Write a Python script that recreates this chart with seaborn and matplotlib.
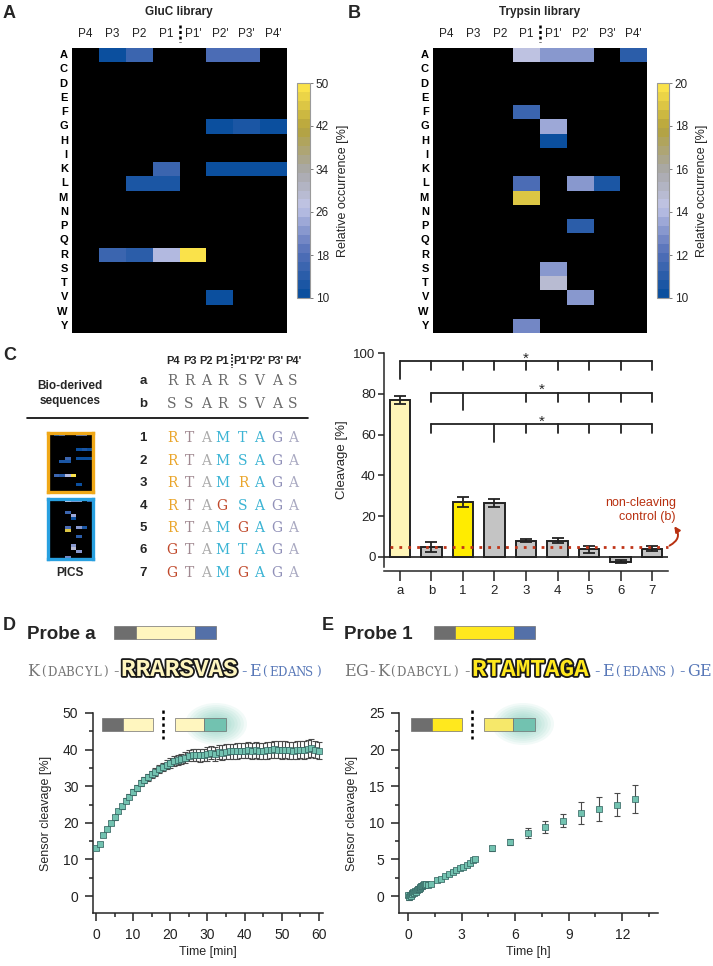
import numpy as np
import pandas as pd
import seaborn as sns
import matplotlib.pyplot as plt
from matplotlib.colors import LinearSegmentedColormap
from matplotlib.patches import Rectangle, Ellipse
from matplotlib.ticker import MultipleLocator
import matplotlib.patheffects as pe

sns.set_style("ticks")
plt.rcParams['font.family'] = ['Liberation Sans', 'DejaVu Sans']
plt.rcParams['axes.linewidth'] = 1.1

# ---------------- data ----------------
residues = list("ACDEFGHIKLMNPQRSTVWY")
positions = ["P4", "P3", "P2", "P1", "P1'", "P2'", "P3'", "P4'"]

# GluC library, only the cells above threshold (others are black)
gluc_res = ["A", "A", "A", "A", "G", "G", "G", "K", "K", "K", "K", "L", "L", "R", "R", "R", "R", "V"]
gluc_pos = ["P3", "P2", "P2'", "P3'", "P2'", "P3'", "P4'", "P1", "P2'", "P3'", "P4'",
            "P2", "P1", "P3", "P2", "P1", "P1'", "P2'"]
gluc_val = [11.5, 15, 18, 17, 11, 12.5, 11.5, 16.5, 11, 11, 11, 13, 12, 15, 14.5, 25.5, 49, 10.5]

# Trypsin library
tryp_res = ["A", "A", "A", "A", "F", "G", "H", "L", "L", "L", "M", "P", "S", "T", "V", "Y"]
tryp_pos = ["P1", "P1'", "P2'", "P4'", "P1", "P1'", "P1'", "P1", "P2'", "P3'", "P1", "P2'", "P1'", "P1'", "P2'", "P1"]
tryp_val = [14.2, 13, 13, 11, 11.5, 13.5, 10.3, 12, 13, 10.8, 19, 11, 13, 14.6, 13, 12.5]

# panel C sequences
bio_ids = ["a", "b"]
bio_seqs = ["RRARSVAS", "SSARSVAS"]
pics_ids = ["1", "2", "3", "4", "5", "6", "7"]
pics_seqs = ["RTAMTAGA", "RTAMSAGA", "RTAMRAGA", "RTAGSAGA", "RTAMGAGA", "GTAMTAGA", "GTAMGAGA"]

# cleavage bars
bar_labels = ["a", "b", "1", "2", "3", "4", "5", "6", "7"]
bar_vals = [77.0, 4.9, 26.9, 26.2, 7.8, 7.8, 3.6, -2.5, 3.9]
bar_err = [2.0, 2.3, 2.6, 2.0, 0.7, 1.2, 1.6, 0.7, 1.2]
bar_colors = ["#fff5b8", "#c4c4c4", "#ffec00", "#c4c4c4", "#c4c4c4", "#c4c4c4", "#c4c4c4", "#c4c4c4", "#c4c4c4"]
control_level = 4.9
br_levels = [96, 80.5, 65]
br_starts = [0, 1, 1]
br_long = [0, 2, 3]
br_skip = [None, 3, 2]

# probe a time course (min)
time_a = list(range(61))
cleav_a = [13.0, 14.2, 16.6, 18.3, 19.9, 21.5, 23.2, 24.5, 26.0, 27.1,
           28.4, 29.6, 30.9, 31.7, 32.4, 33.2, 33.9, 34.6, 35.2, 35.9,
           36.4, 36.9, 37.1, 37.5, 37.8, 38.3, 38.5, 38.6, 38.4, 38.6,
           38.8, 39.2, 38.8, 39.3, 39.2, 39.4, 39.5, 39.5, 39.6, 39.7,
           39.7, 39.8, 39.7, 39.8, 39.7, 39.6, 39.8, 39.9, 40.1, 40.0,
           39.9, 40.0, 39.8, 39.7, 39.9, 40.0, 39.9, 40.1, 40.4, 40.0, 39.7]
err_a = [0.4, 0.5, 0.5, 0.5, 0.6, 0.6, 0.6, 0.7, 0.7, 0.7,
         0.8, 0.8, 0.8, 0.9, 0.9, 1.0, 1.0, 1.1, 1.1, 1.2,
         1.3, 1.3, 1.4, 1.4, 1.5, 1.5, 1.6, 1.6, 1.7, 1.7,
         1.8, 1.8, 1.9, 1.9, 2.0, 2.0, 2.0, 2.1, 2.1, 2.1,
         2.1, 2.2, 2.2, 2.2, 2.2, 2.2, 2.3, 2.3, 2.3, 2.3,
         2.4, 2.4, 2.4, 2.4, 2.4, 2.4, 2.4, 2.4, 2.4, 2.4, 2.4]

# probe 1 time course (h)
time_1 = [0.0, 0.05, 0.1, 0.15, 0.2, 0.25, 0.3, 0.35, 0.4, 0.45, 0.5, 0.55, 0.6, 0.65,
          0.7, 0.75, 0.8, 0.85, 0.9, 0.95, 1.0, 1.1, 1.3, 1.6, 1.85, 2.05, 2.3, 2.5,
          2.7, 2.9, 3.1, 3.3, 3.45, 3.65, 3.75, 4.7, 5.7, 6.7, 7.7, 8.7, 9.7, 10.7, 11.7, 12.7]
cleav_1 = [0.1, -0.2, 0.2, 0.0, 0.4, 0.3, 0.5, 0.4, 0.7, 0.6, 0.8, 1.0, 0.9, 1.1,
           1.2, 1.4, 1.3, 1.5, 1.6, 1.5, 1.6, 1.5, 1.6, 2.2, 2.3, 2.7, 3.0, 3.3,
           3.6, 3.8, 4.0, 4.2, 4.5, 4.9, 5.1, 6.5, 7.4, 8.6, 9.4, 10.3, 11.3, 11.9, 12.5, 13.3]
err_1 = [0.3, 0.3, 0.3, 0.3, 0.3, 0.3, 0.3, 0.3, 0.3, 0.3, 0.3, 0.3, 0.3, 0.3,
         0.3, 0.3, 0.3, 0.3, 0.3, 0.3, 0.2, 0.2, 0.2, 0.2, 0.2, 0.2, 0.2, 0.2,
         0.2, 0.2, 0.2, 0.2, 0.2, 0.2, 0.2, 0.35, 0.4, 0.7, 0.8, 0.85, 1.5, 1.6, 1.6, 1.9]

# ---------------- helpers ----------------
W, H = 713, 966
fig = plt.figure(figsize=(W / 100, H / 100), dpi=100)
SERIF = 'DejaVu Serif'


def ax_at(x0, y0, x1, y1):
    return fig.add_axes([x0 / W, 1 - y1 / H, (x1 - x0) / W, (y1 - y0) / H])


def ftext(x, y, s, **kw):
    return fig.text(x / W, 1 - y / H, s, **kw)


def frect(x0, y0, x1, y1, fc, ec='#707070', lw=0.5, z=5):
    fig.add_artist(Rectangle((x0 / W, 1 - y1 / H), (x1 - x0) / W, (y1 - y0) / H,
                             transform=fig.transFigure, fc=fc, ec=ec, lw=lw, zorder=z))


def fline(xs, ys, **kw):
    fig.add_artist(plt.Line2D([x / W for x in xs], [1 - y / H for y in ys],
                              transform=fig.transFigure, **kw))


def glow(cx, cy, w, h, color='#5cc0a8'):
    for k in range(10):
        f = 1 - k / 10
        fig.add_artist(Ellipse((cx / W, 1 - cy / H), w * f / W, h * f / H, transform=fig.transFigure,
                               fc=color, ec='none', alpha=0.08, zorder=4))


def mono_text(x0, y, s, adv, fs, color):
    # typewriter-like spacing: one fixed cell per character
    for k, ch in enumerate(s):
        ftext(x0 + (k + 0.5) * adv, y, ch, fontsize=fs, family=SERIF, color=color,
              ha='center', va='baseline')


occ_cmap = LinearSegmentedColormap.from_list(
    "occ", [(0, "#0b4f9e"), (0.2, "#5570b8"), (0.42, "#c0c4e6"), (0.6, "#a8a8a8"),
            (0.8, "#b4a23c"), (1.0, "#fae24a")], N=24)


def make_df(res, pos, val):
    df = pd.DataFrame(np.nan, index=residues, columns=positions)
    for r, p, v in zip(res, pos, val):
        df.loc[r, p] = v
    return df


gluc_df = make_df(gluc_res, gluc_pos, gluc_val)
tryp_df = make_df(tryp_res, tryp_pos, tryp_val)


def draw_heatmap(ax, cax, df, vmin, vmax, ticks):
    ax.set_facecolor('black')
    sns.heatmap(df, ax=ax, cmap=occ_cmap, vmin=vmin, vmax=vmax, cbar_ax=cax,
                xticklabels=positions, yticklabels=residues, cbar_kws={'ticks': ticks})
    ax.xaxis.tick_top()
    plt.setp(ax.get_xticklabels(), rotation=0, fontsize=8.5)
    plt.setp(ax.get_yticklabels(), rotation=0, fontsize=8, fontweight='bold')
    ax.tick_params(axis='x', length=0, pad=6, colors='#222222')
    ax.tick_params(axis='y', length=0, pad=3, colors='black')
    ax.set_xlabel('')
    ax.set_ylabel('')
    ax.plot([4, 4], [-1.6, -0.45], color='black', lw=1.8, ls=(0, (1.2, 1.0)), clip_on=False)
    cb = ax.collections[0].colorbar
    cb.outline.set_edgecolor('#9a9a9a')
    cb.outline.set_linewidth(0.8)
    cb.ax.tick_params(labelsize=8.5, length=2.5, width=0.6, color='#666666', pad=1.5)
    cb.set_label('Relative occurrence [%]', fontsize=9, labelpad=6)


# ---------------- panel A / B ----------------
axA = ax_at(72, 48, 287, 333)
caxA = ax_at(297, 83, 310, 298)
draw_heatmap(axA, caxA, gluc_df, 10, 50, [10, 18, 26, 34, 42, 50])
axB = ax_at(433, 48, 647, 333)
caxB = ax_at(657, 83, 669, 298)
draw_heatmap(axB, caxB, tryp_df, 10, 20, [10, 12, 14, 16, 18, 20])

ftext(3, 13, "A", fontsize=13, fontweight='bold', va='center')
ftext(348, 13, "B", fontsize=13, fontweight='bold', va='center')
ftext(179, 12, "GluC library", fontsize=8.5, fontweight='bold', ha='center', va='center')
ftext(540, 12, "Trypsin library", fontsize=8.5, fontweight='bold', ha='center', va='center')

# ---------------- panel C left ----------------
ftext(3, 355, "C", fontsize=13, fontweight='bold', va='center')
letter_x = [172, 189, 206, 222, 243, 259, 277, 293]
head_x = [173, 190, 206, 222, 241, 257, 275, 293]
for px, lab in zip(head_x, positions):
    ftext(px, 361, lab, fontsize=8, fontweight='bold', ha='center', va='center')
fline([232, 232], [354, 368], color='black', lw=1.2, ls=(0, (1, 1)))

ftext(70, 386, "Bio-derived", fontsize=8.5, fontweight='bold', ha='center', va='center')
ftext(70, 401, "sequences", fontsize=8.5, fontweight='bold', ha='center', va='center')
for yy, sid, seq in zip([381, 404], bio_ids, bio_seqs):
    ftext(143, yy, sid, fontsize=9.5, fontweight='bold', ha='center', va='center')
    for px, aa in zip(letter_x, seq):
        ftext(px, yy, aa, fontsize=10, family=SERIF, color='#6a6a6a',
              ha='center', va='center')
fline([27, 308], [418, 418], color='black', lw=1.2)

orange, red, cyan = "#eaa52a", "#c0482a", "#3cb4d4"
pos_colors = [orange, "#a08890", "#ababab", cyan, cyan, cyan, "#9090b8", "#aaaac2"]


def letter_color(i, aa):
    if aa == 'R':
        return orange
    if aa == 'G' and i < 6:
        return red
    return pos_colors[i]


rows_y = [438, 461, 483, 506, 528, 550, 573]
for yy, sid, seq in zip(rows_y, pics_ids, pics_seqs):
    ftext(143, yy, sid, fontsize=9.5, fontweight='bold', ha='center', va='center')
    for i, (px, aa) in enumerate(zip(letter_x, seq)):
        ftext(px, yy, aa, fontsize=10, family=SERIF, color=letter_color(i, aa),
              ha='center', va='center')

for (y0, y1), df, col, vmax in [((433, 492), gluc_df, "#f0a818", 50), ((499, 559), tryp_df, "#28a0e0", 20)]:
    th = ax_at(48, y0, 93, y1)
    th.set_facecolor('black')
    sns.heatmap(df, ax=th, cmap=occ_cmap, vmin=10, vmax=vmax,
                cbar=False, xticklabels=False, yticklabels=False)
    th.set_xlabel('')
    th.set_ylabel('')
    for s in th.spines.values():
        s.set_visible(True)
        s.set_color(col)
        s.set_linewidth(2.4)
ftext(70, 573, "PICS", fontsize=8.5, fontweight='bold', ha='center', va='center')

# ---------------- panel C bars ----------------
axc = ax_at(384, 353, 668, 567)
axc.axhline(0, color='#222222', lw=1.2, zorder=1)
sns.barplot(x=bar_labels, y=bar_vals, hue=bar_labels, palette=bar_colors, legend=False,
            saturation=1, width=0.65, edgecolor='#222222', linewidth=1.4, errorbar=None,
            ax=axc, zorder=2)
axc.errorbar(range(len(bar_vals)), bar_vals, yerr=bar_err, fmt='none', ecolor='#222222',
             elinewidth=1.3, capsize=4, capthick=1.3, zorder=3)
axc.plot([-0.3, 8.5], [control_level, control_level], color='#c03418', lw=2,
         ls=(0, (1, 2.2)), zorder=4, clip_on=False)
for level, start, long_i, skip in zip(br_levels, br_starts, br_long, br_skip):
    axc.plot([start, 8], [level, level], color='#222222', lw=1.3, clip_on=False)
    for i in range(start, 9):
        if i == skip:
            continue
        drop = 8.7 if i == long_i else 4.3
        axc.plot([i, i], [level, level - drop], color='#222222', lw=1.3, clip_on=False)
    axc.text((start + 8) / 2, level + 1.3, "*", fontsize=11, ha='center', va='center')
axc.text(8.75, 23, "non-cleaving\ncontrol (b)", color='#b83010', fontsize=9,
         ha='right', va='center', multialignment='right', linespacing=1.15)
axc.annotate('', xy=(8.7, 15), xytext=(8.55, 5.5), annotation_clip=False,
             arrowprops=dict(arrowstyle='-|>', color='#b83010', lw=1.4, mutation_scale=8,
                             shrinkA=0, shrinkB=0, connectionstyle='arc3,rad=0.55'))
axc.set_xlim(-0.5, 8.5)
axc.set_ylim(-5, 100)
axc.set_yticks([0, 20, 40, 60, 80, 100])
axc.set_ylabel("Cleavage [%]", fontsize=9.5, labelpad=4)
axc.set_xlabel('')
sns.despine(ax=axc)
axc.spines['bottom'].set_position(('outward', 3))
axc.tick_params(axis='x', length=7, width=1.1, labelsize=9.5, pad=3, colors='#222222')
axc.tick_params(axis='y', length=4, width=1.1, labelsize=9.5, pad=2, colors='#222222')

# ---------------- panels D / E ----------------
ftext(3, 625, "D", fontsize=13, fontweight='bold', va='center')
ftext(322, 625, "E", fontsize=13, fontweight='bold', va='center')
ftext(27, 639, "Probe a", fontsize=13.5, fontweight='bold', va='baseline')
ftext(344, 639, "Probe 1", fontsize=13.5, fontweight='bold', va='baseline')

grey_q, pale_y, bright_y, blue_f, teal = "#6e6e6e", "#fff6bf", "#ffe81e", "#5470a8", "#72c2b0"
frect(114, 626, 136, 639, grey_q)
frect(136, 626, 195, 639, pale_y)
frect(195, 626, 216, 639, blue_f)
frect(434, 626, 455, 639, grey_q)
frect(455, 626, 514, 639, bright_y)
frect(514, 626, 535, 639, blue_f)

seq_grey, seq_blue = "#767676", "#5878b8"
outline = [pe.Stroke(linewidth=2.6, foreground='#1a1a1a'), pe.Normal()]
# flanking groups: (text, start x, cell width, font size, colour)
flank_a = [("K", 27, 11.5, 11.5, seq_grey), ("(DABCYL)", 39, 8.9, 8.5, seq_grey),
           ("-", 110, 11, 11.5, seq_grey), ("-E", 239, 10.5, 11.5, seq_blue),
           ("(EDANS)", 260, 9, 8.5, seq_blue)]
flank_1 = [("EG-K", 345, 10.75, 11.5, seq_grey), ("(DABCYL)", 388, 9, 8.5, seq_grey),
           ("-", 461, 11, 11.5, seq_grey), ("-E", 592, 10.5, 11.5, seq_blue),
           ("(EDANS)", 613, 9, 8.5, seq_blue), ("-GE", 677, 11, 11.5, seq_blue)]
for parts in (flank_a, flank_1):
    for txt, px, adv, fs, col in parts:
        mono_text(px, 676, txt, adv, fs, col)
for txt, px, col in [("RRARSVAS", 121, pale_y), ("RTAMTAGA", 472, bright_y)]:
    t = ftext(px, 676, txt, fontsize=17.5, family='Liberation Mono', fontweight='bold',
              color=col, va='baseline')
    t.set_path_effects(outline)


def time_panel(ax, t, y, e, xlim, ylim, xmaj, xmin, ymaj, ymin, xlabel):
    ax.errorbar(t, y, yerr=e, fmt='none', ecolor='#4a4a4a', elinewidth=0.8, capsize=2,
                capthick=0.8, zorder=2)
    sns.scatterplot(x=t, y=y, marker='s', s=18, color=teal, edgecolor='#2f5f5c',
                    linewidth=0.5, ax=ax, zorder=3)
    ax.xaxis.set_major_locator(MultipleLocator(xmaj))
    ax.xaxis.set_minor_locator(MultipleLocator(xmin))
    ax.yaxis.set_major_locator(MultipleLocator(ymaj))
    ax.yaxis.set_minor_locator(MultipleLocator(ymin))
    ax.set_xlim(*xlim)
    ax.set_ylim(*ylim)
    sns.despine(ax=ax)
    ax.tick_params(which='major', length=5.5, width=1.1, labelsize=10, pad=5, colors='#222222')
    ax.tick_params(which='minor', length=3, width=1.1, colors='#222222')
    ax.set_xlabel(xlabel, fontsize=9, labelpad=3)
    ax.set_ylabel("Sensor cleavage [%]", fontsize=9, labelpad=8)


axD = ax_at(93, 713, 323, 913)
time_panel(axD, time_a, cleav_a, err_a, (-0.8, 61.1), (-4.64, 50), 10, 5, 10, 5, "Time [min]")
axE = ax_at(399, 713, 658, 913)
time_panel(axE, time_1, cleav_1, err_1, (-0.5, 14.0), (-2.32, 25), 3, 1.5, 5, 2.5, "Time [h]")

# cleavage schematic insets
for g0, y1c, dx, y2c, ref in [(102, pale_y, 163, pale_y, 215), (411, bright_y, 472, "#f6e86a", 522)]:
    glow(ref + 1, 724, 62, 42)
    frect(g0, 718, g0 + 21, 731, grey_q)
    frect(g0 + 21, 718, g0 + 51, 731, y1c)
    fline([dx, dx], [710, 739], color='black', lw=1.8, ls=(0, (1.3, 1.3)), zorder=5)
    frect(dx + 12, 718, dx + 41, 731, y2c)
    frect(dx + 41, 718, dx + 63, 731, teal)

fig.savefig("out.png", dpi=100)
